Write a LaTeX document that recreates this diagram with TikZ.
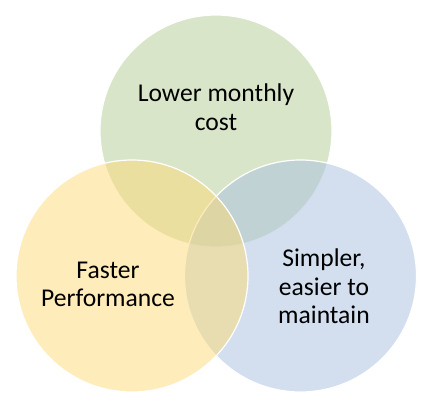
\documentclass[tikz,border=0pt]{standalone}
\usepackage{fontspec}
\setmainfont{Carlito}
\definecolor{cgreen}{RGB}{179,203,147}
\definecolor{cyellow}{RGB}{253,217,117}
\definecolor{cblue}{RGB}{167,191,223}
\begin{document}
\begin{tikzpicture}[x=1pt,y=-1pt,
  venn/.style={draw=white,line width=1.2pt,fill opacity=0.5},
  lbl/.style={align=center,inner sep=0pt,font=\fontsize{25.6}{28.2}\selectfont,text=black}]
\useasboundingbox (0,0) rectangle (432,404);
\path[venn,fill=cgreen] (216,131) circle[radius=116];
\path[venn,fill=cblue] (300.5,276) circle[radius=116];
\path[venn,fill=cyellow] (132,276) circle[radius=116];
\node[lbl] (tlabel) at (216,107.3) {Lower monthly\\cost};
\node[lbl] (llabel) at (108,284.6) {Faster\\Performance};
\node[lbl] (rlabel) at (324,286.3) {Simpler,\\easier to\\maintain};
\end{tikzpicture}
\end{document}
